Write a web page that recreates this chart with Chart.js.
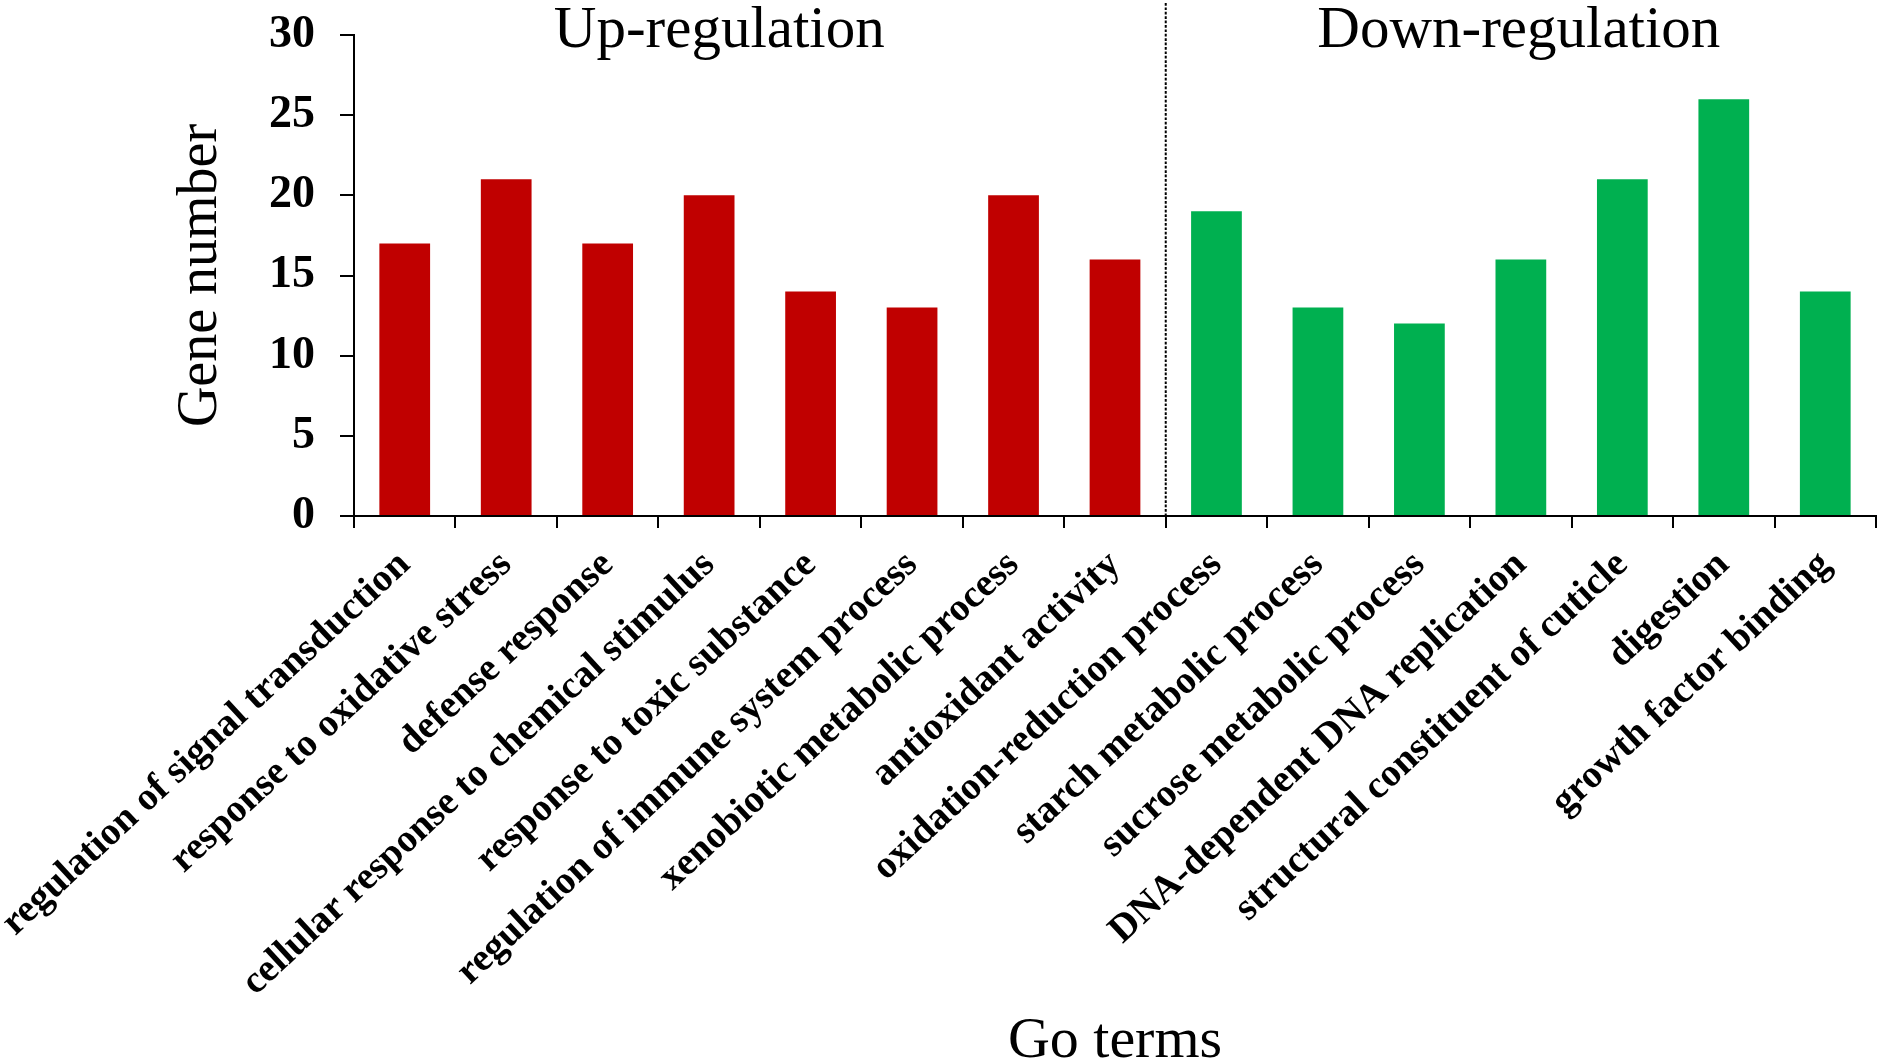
<!DOCTYPE html>
<html>
<head>
<meta charset="utf-8">
<script src="https://cdn.jsdelivr.net/npm/chart.js@4.4.1/dist/chart.umd.min.js"></script>
<style>
  html, body { margin: 0; padding: 0; background: #fff; }
  #wrap { position: relative; width: 1882px; height: 1063px; }
</style>
</head>
<body>
<div id="wrap"><canvas id="c"></canvas></div>
<script>
const upTerms = [
  "regulation of signal transduction",
  "response to oxidative stress",
  "defense response",
  "cellular response to chemical stimulus",
  "response to toxic substance",
  "regulation of immune system process",
  "xenobiotic metabolic process",
  "antioxidant activity"
];
const downTerms = [
  "oxidation-reduction process",
  "starch metabolic process",
  "sucrose metabolic process",
  "DNA-dependent DNA replication",
  "structural constituent of cuticle",
  "digestion",
  "growth factor binding"
];
const upValues = [17, 21, 17, 20, 14, 13, 20, 16];
const downValues = [19, 13, 12, 16, 21, 26, 14];
const yTicks = [0, 5, 10, 15, 20, 25, 30];
const groupTitles = ["Up-regulation", "Down-regulation"];

const categories = upTerms.concat(downTerms);
const upData = upValues.concat(downTerms.map(() => null));
const downData = upTerms.map(() => null).concat(downValues);

const SERIF = "'Liberation Serif', 'Times New Roman', serif";

const overlay = {
  id: 'overlay',
  afterDatasetsDraw(chart) {
    const {ctx, chartArea, scales: {x}} = chart;
    const nUp = upTerms.length;
    const xDiv = (x.getPixelForValue(nUp - 1) + x.getPixelForValue(nUp)) / 2;
    ctx.save();
    ctx.strokeStyle = '#000';
    ctx.lineWidth = 2;
    ctx.setLineDash([2.7, 1.7]);
    ctx.beginPath();
    ctx.moveTo(xDiv, 3);
    ctx.lineTo(xDiv, chartArea.bottom);
    ctx.stroke();
    ctx.setLineDash([]);
    ctx.fillStyle = '#000';
    ctx.font = "59px " + SERIF;
    ctx.textAlign = 'center';
    ctx.textBaseline = 'alphabetic';
    const upCenter = x.getPixelForValue(3.1);
    const downCenter = x.getPixelForValue(nUp + 3 - 0.02);
    ctx.fillText(groupTitles[0], upCenter, 47);
    ctx.fillText(groupTitles[1], downCenter, 47);
    ctx.restore();
  }
};

new Chart(document.getElementById('c'), {
  type: 'bar',
  data: {
    labels: categories,
    datasets: [
      { label: groupTitles[0], data: upData, backgroundColor: '#C00000', borderWidth: 0 },
      { label: groupTitles[1], data: downData, backgroundColor: '#00B050', borderWidth: 0 }
    ]
  },
  options: {
    responsive: true,
    maintainAspectRatio: false,
    animation: false,
    devicePixelRatio: 1,
    layout: { padding: { left: 0, right: 6, top: 35, bottom: 0 } },
    datasets: { bar: { grouped: false, categoryPercentage: 1.0, barPercentage: 0.5 } },
    plugins: { legend: { display: false }, tooltip: { enabled: false } },
    scales: {
      x: {
        type: 'category',
        offset: true,
        border: { display: true, color: '#000', width: 2 },
        grid: { display: true, offset: true, drawOnChartArea: false, drawTicks: true, tickLength: 12, color: '#000', lineWidth: 2 },
        ticks: {
          autoSkip: false, minRotation: 43, maxRotation: 43, padding: 14,
          color: '#000', font: { family: SERIF, size: 39, weight: 'bold' }
        },
        title: {
          display: true, text: 'Go terms', color: '#000',
          font: { family: SERIF, size: 58, weight: 'normal' },
          padding: { top: 0, bottom: -14 }
        },
        afterFit(s) { s.height = 1063 - 516; s.paddingLeft = 0; s.paddingRight = 0; }
      },
      y: {
        min: 0, max: 30,
        afterBuildTicks(s) { s.ticks = yTicks.map(v => ({ value: v })); },
        border: { display: true, color: '#000', width: 2 },
        grid: { display: true, drawOnChartArea: false, drawTicks: true, tickLength: 14, color: '#000', lineWidth: 2 },
        ticks: {
          padding: 25, color: '#000',
          font: { family: SERIF, size: 46, weight: 'bold' }
        },
        title: {
          display: true, text: 'Gene number', color: '#000',
          font: { family: SERIF, size: 56, weight: 'normal' },
          padding: { top: 168, bottom: 0 }
        },
        afterFit(s) { s.width = 354; s.paddingTop = 0; s.paddingBottom = 0; }
      }
    }
  },
  plugins: [overlay]
});
</script>
</body>
</html>
